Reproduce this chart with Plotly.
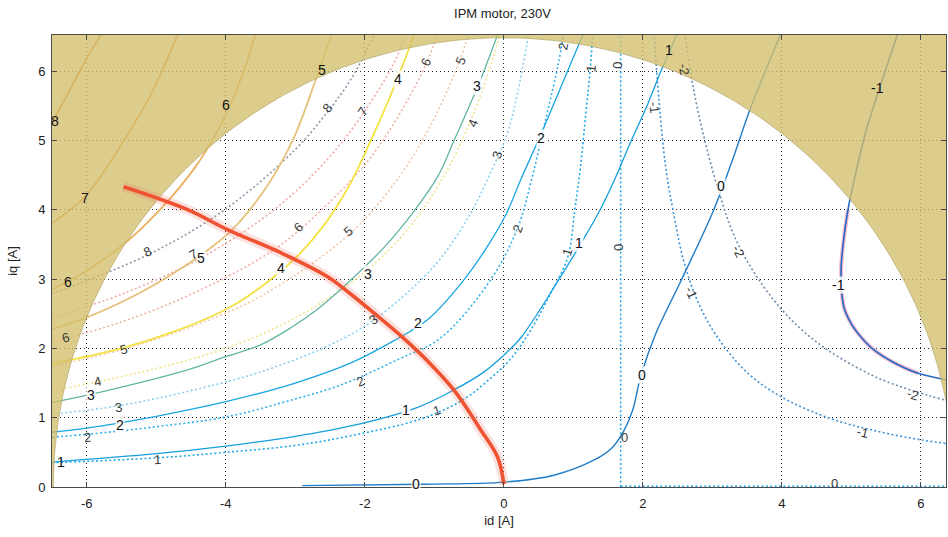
import numpy as np
import plotly.graph_objects as go

# ---------------------------------------------------------------
# Current-plane map of an IPM motor: torque contours (solid),
# second torque map (dotted), MTPA trajectory and current limit.
# All curves are (id, iq) pairs in amperes.
# ---------------------------------------------------------------

# solid torque contours
solid_m1 = [(5.67, 6.55), (5.42, 5.8), (5.2, 5.1), (5.04, 4.43), (4.95, 4.0), (4.88, 3.5),
            (4.85, 3.1), (4.89, 2.6), (5.0, 2.35), (5.14, 2.16), (5.32, 1.98), (5.6, 1.8),
            (5.96, 1.64), (6.45, 1.53)]
solid_0 = [(-2.9, 0.02), (-1.15, 0.04), (0.0, 0.07), (0.72, 0.17), (1.3, 0.39), (1.55, 0.56),
           (1.72, 0.8), (1.85, 1.1), (1.97, 1.6), (2.18, 2.2), (2.56, 3.0), (3.02, 4.0),
           (3.3, 4.75), (3.55, 5.47), (3.99, 6.55)]
solid_1 = [(-6.5, 0.36), (-5.0, 0.48), (-4.0, 0.59), (-3.0, 0.73), (-2.2, 0.88), (-1.24, 1.15),
           (-0.72, 1.4), (-0.3, 1.65), (0.03, 1.93), (0.25, 2.16), (0.79, 2.99), (1.1, 3.5),
           (1.37, 3.97), (1.6, 4.45), (1.83, 4.99), (2.06, 5.5), (2.26, 6.0), (2.5, 6.55)]
solid_2 = [(-6.5, 0.79), (-6.0, 0.85), (-5.0, 1.02), (-4.0, 1.23), (-3.0, 1.5), (-2.2, 1.79),
           (-1.6, 2.1), (-1.09, 2.42), (-0.62, 2.93), (-0.25, 3.45), (0.03, 3.93), (0.25, 4.45),
           (0.53, 5.08), (0.8, 5.72), (1.0, 6.2), (1.15, 6.55)]
solid_3 = [(-6.5, 1.22), (-5.8, 1.37), (-4.55, 1.69), (-4.0, 1.88), (-3.5, 2.05), (-3.06, 2.3),
           (-2.7, 2.55), (-2.35, 2.85), (-1.73, 3.45), (-1.3, 3.97), (-0.95, 4.48), (-0.72, 4.99),
           (-0.37, 5.79), (-0.08, 6.55)]
solid_4 = [(-6.5, 1.78), (-5.5, 2.0), (-4.75, 2.24), (-4.0, 2.56), (-3.5, 2.88), (-3.0, 3.3),
           (-2.6, 3.76), (-2.24, 4.32), (-1.95, 4.92), (-1.65, 5.6), (-1.45, 6.1), (-1.28, 6.55)]
solid_5 = [(-6.5, 2.28), (-5.99, 2.45), (-5.2, 2.82), (-4.45, 3.28), (-3.91, 3.71), (-3.4, 4.35),
           (-3.02, 5.04), (-2.68, 5.95), (-2.47, 6.55)]
solid_6 = [(-6.5, 2.85), (-6.0, 3.12), (-5.4, 3.56), (-4.9, 4.05), (-4.45, 4.6), (-4.15, 5.08),
           (-3.92, 5.55), (-3.74, 6.0), (-3.57, 6.55)]
solid_7 = [(-6.5, 3.8), (-6.03, 4.18), (-5.74, 4.57), (-5.47, 4.99), (-5.1, 5.62), (-4.68, 6.55)]
solid_8 = [(-6.5, 5.25), (-6.3, 5.62), (-6.1, 6.0), (-5.95, 6.27), (-5.78, 6.55)]

# dotted torque contours
dotted_m2 = [(2.6, 6.55), (2.69, 5.96), (2.81, 5.34), (3.08, 4.3), (3.37, 3.5), (3.88, 2.7),
             (4.46, 2.12), (5.32, 1.6), (6.14, 1.31), (6.5, 1.22)]
dotted_m1 = [(2.16, 6.55), (2.23, 5.6), (2.33, 4.6), (2.45, 3.9), (2.59, 3.25), (2.8, 2.65),
             (3.08, 2.15), (3.5, 1.65), (3.99, 1.3), (4.66, 1.0), (5.3, 0.82), (6.0, 0.68),
             (6.5, 0.61)]
dotted_0 = [(1.68, 0.0), (1.68, 6.55)]
dotted_0_base = [(1.68, 0.01), (6.5, 0.01)]
dotted_1 = [(-6.5, 0.35), (-5.0, 0.42), (-4.0, 0.5), (-3.0, 0.6), (-2.2, 0.74), (-1.2, 0.98),
            (-0.6, 1.25), (-0.19, 1.57), (0.1, 1.85), (0.39, 2.27), (0.65, 2.75), (0.92, 3.32),
            (1.02, 4.0), (1.1, 4.6), (1.18, 5.4), (1.24, 6.0), (1.28, 6.55)]
dotted_2 = [(-6.5, 0.72), (-6.0, 0.76), (-5.0, 0.87), (-4.0, 1.01), (-3.0, 1.27), (-2.35, 1.47),
            (-1.5, 1.85), (-0.91, 2.15), (-0.19, 2.99), (0.2, 3.74), (0.39, 4.4), (0.6, 5.3),
            (0.78, 6.09), (0.86, 6.55)]
dotted_3 = [(-6.5, 1.05), (-5.55, 1.17), (-4.5, 1.39), (-3.5, 1.66), (-2.5, 2.05), (-1.87, 2.41),
            (-1.0, 3.19), (-0.5, 3.91), (-0.23, 4.45), (0.05, 5.1), (0.2, 5.7), (0.36, 6.55)]
dotted_4 = [(-6.5, 1.39), (-5.84, 1.52), (-5.0, 1.71), (-4.0, 2.0), (-3.0, 2.44), (-2.0, 3.1),
            (-1.3, 3.82), (-0.8, 4.6), (-0.45, 5.35), (-0.2, 6.05), (-0.05, 6.55)]
dotted_5 = [(-6.5, 1.74), (-5.47, 1.99), (-4.5, 2.31), (-3.5, 2.75), (-2.23, 3.64), (-1.5, 4.48),
            (-1.0, 5.32), (-0.62, 6.2), (-0.5, 6.55)]
dotted_6 = [(-6.5, 2.09), (-5.5, 2.38), (-4.5, 2.78), (-3.5, 3.3), (-2.96, 3.69), (-2.0, 4.65),
            (-1.5, 5.38), (-1.12, 6.1), (-0.95, 6.55)]
dotted_7 = [(-6.5, 2.44), (-5.5, 2.78), (-4.4, 3.28), (-3.5, 3.85), (-3.0, 4.26), (-2.5, 4.77),
            (-2.03, 5.38), (-1.6, 6.08), (-1.4, 6.55)]
dotted_8 = [(-6.5, 2.79), (-5.12, 3.35), (-4.0, 4.01), (-3.0, 4.87), (-2.53, 5.42), (-2.2, 5.88),
            (-1.85, 6.55)]

# maximum-torque-per-ampere trajectory
mtpa = [(-5.47, 4.33), (-4.55, 4.0), (-3.97, 3.71), (-3.21, 3.38), (-2.53, 3.03), (-2.2, 2.78),
        (-1.87, 2.51), (-1.48, 2.18), (-1.1, 1.82), (-0.72, 1.4), (-0.33, 0.82), (-0.09, 0.43),
        (0.0, 0.04)]

# current limit radius [A]
I_MAX = 6.48

# inline contour labels: (level, id, iq)
solid_labels = [(8, -6.45, 5.28), (7, -6.03, 4.17), (6, -6.27, 2.96), (6, -4.0, 5.51),
                (5, -2.62, 6.02), (5, -4.36, 3.3), (4, -1.52, 5.88), (4, -3.2, 3.16),
                (3, -0.38, 5.79), (3, -1.96, 3.07), (3, -5.94, 1.33), (2, 0.53, 5.03),
                (2, -1.24, 2.37), (2, -5.52, 0.89), (1, 2.37, 6.31), (1, 1.08, 3.52),
                (1, -1.41, 1.11), (1, -6.37, 0.36), (0, 3.12, 4.34), (0, 1.99, 1.62),
                (0, -1.27, 0.05), (-1, 5.38, 5.76), (-1, 4.81, 2.91)]
dotted_labels = [(-1, 2.16, 5.47), (-2, 2.59, 6.02), (-1, 2.69, 2.8), (-2, 3.37, 3.39),
                 (-1, 5.16, 0.79), (-2, 5.88, 1.33), (0, 1.64, 6.09), (0, 1.64, 3.46),
                 (0, 1.73, 0.72), (0, 4.76, 0.05), (1, 1.25, 6.04), (2, 0.85, 6.36),
                 (1, 0.92, 3.39), (2, 0.2, 3.73), (3, -0.09, 4.79), (4, -0.45, 5.25),
                 (5, -0.62, 6.15), (6, -1.12, 6.12), (7, -2.03, 5.42), (8, -2.53, 5.47),
                 (6, -2.96, 3.74), (5, -2.24, 3.68), (3, -1.87, 2.41), (2, -2.06, 1.52),
                 (1, -0.97, 1.11), (8, -5.12, 3.39), (7, -4.47, 3.35), (6, -6.3, 2.16),
                 (5, -5.47, 1.99), (4, -5.84, 1.52), (3, -5.55, 1.15), (2, -5.99, 0.71),
                 (1, -4.98, 0.39)]

x_ticks = [-6, -4, -2, 0, 2, 4, 6]
x_tick_text = ["-6", "-4", "-2", "0", "2", "4", "6"]
y_ticks = [0, 1, 2, 3, 4, 5, 6]
y_tick_text = ["0", "1", "2", "3", "4", "5", "6"]

# ---------------------------------------------------------------
solid = {-1: solid_m1, 0: solid_0, 1: solid_1, 2: solid_2, 3: solid_3,
         4: solid_4, 5: solid_5, 6: solid_6, 7: solid_7, 8: solid_8}
dotted = {-2: [dotted_m2], -1: [dotted_m1], 0: [dotted_0, dotted_0_base],
          1: [dotted_1], 2: [dotted_2], 3: [dotted_3], 4: [dotted_4],
          5: [dotted_5], 6: [dotted_6], 7: [dotted_7], 8: [dotted_8]}

solid_color = {-1: "#2468c8", 0: "#1f7cc8", 1: "#169fdc", 2: "#19a6e2", 3: "#62b6a4",
               4: "#f4e142", 5: "#e6c27c", 6: "#ebb062", 7: "#e9a052", 8: "#e09048"}
solid_width = {-1: 1.6, 0: 1.4, 1: 1.3, 2: 1.3, 3: 1.3, 4: 1.8, 5: 1.8, 6: 1.8, 7: 1.8, 8: 1.8}
dotted_color = {-2: "#6f8cab", -1: "#3c92da", 0: "#2aa8e8", 1: "#22a8e8", 2: "#34b0ec",
                3: "#8ccfee", 4: "#f0e48c", 5: "#f2c6a6", 6: "#f1b2a4", 7: "#efaaa6",
                8: "#8f98aa"}

FONT = "Liberation Sans, Arial, Helvetica, sans-serif"
X_RANGE = [-6.5, 6.36]
Y_RANGE = [0, 6.52]
PX_X, PX_Y = 894 / (X_RANGE[1] - X_RANGE[0]), 452 / (Y_RANGE[1] - Y_RANGE[0])

fig = go.Figure()


def xy(pts):
    a = np.array(pts, dtype=float)
    return a[:, 0], a[:, 1]


# dotted family
for lvl, parts in dotted.items():
    for pts in parts:
        x, y = xy(pts)
        fig.add_trace(go.Scatter(x=x, y=y, mode="lines", hoverinfo="skip", showlegend=False,
                                 line=dict(color=dotted_color[lvl], width=1.6, dash="2px,2.4px",
                                           shape="spline", smoothing=1.0)))

# solid family
for lvl, pts in solid.items():
    x, y = xy(pts)
    if lvl == -1:
        # reddish rim along the part inside the current limit
        rim_y = np.where(np.hypot(x, y) < I_MAX, y, np.nan)
        fig.add_trace(go.Scatter(x=x, y=rim_y, mode="lines", hoverinfo="skip", showlegend=False,
                                 line=dict(color="rgba(238,120,150,0.5)", width=4,
                                           shape="spline", smoothing=1.0)))
    fig.add_trace(go.Scatter(x=x, y=y, mode="lines", hoverinfo="skip", showlegend=False,
                             line=dict(color=solid_color[lvl], width=solid_width[lvl],
                                       shape="spline", smoothing=1.0)))

# region outside the current limit
theta = np.linspace(0, np.pi, 181)
arc_x, arc_y = I_MAX * np.cos(theta), I_MAX * np.sin(theta)
shade_x = np.concatenate([[-8, -8, 8, 8], arc_x, [-8]])
shade_y = np.concatenate([[0, 8, 8, 0], arc_y, [0]])
fig.add_trace(go.Scatter(x=shade_x, y=shade_y, mode="lines", fill="toself",
                         fillcolor="rgba(211,191,108,0.78)", line=dict(width=0),
                         hoverinfo="skip", showlegend=False))
fig.add_trace(go.Scatter(x=arc_x, y=arc_y, mode="lines", hoverinfo="skip", showlegend=False,
                         line=dict(color="rgba(170,158,100,0.6)", width=1)))

# MTPA trajectory
mx, my = xy(mtpa)
fig.add_trace(go.Scatter(x=mx, y=my, mode="lines", hoverinfo="skip", showlegend=False,
                         line=dict(color="rgba(240,110,90,0.2)", width=10,
                                   shape="spline", smoothing=1.0)))
fig.add_trace(go.Scatter(x=mx, y=my, mode="lines", hoverinfo="skip", showlegend=False,
                         line=dict(color="#ef5230", width=3.6, shape="spline", smoothing=1.0)))


def label_angle(parts, px, py):
    best = None
    for pts in parts:
        a = np.array(pts, dtype=float)
        d = np.hypot((a[:, 0] - px) * PX_X, (a[:, 1] - py) * PX_Y)
        i = int(np.argmin(d))
        if best is None or d[i] < best[0]:
            j0, j1 = max(i - 1, 0), min(i + 1, len(a) - 1)
            best = (d[i], a[j1] - a[j0])
    dx, dy = best[1][0] * PX_X, best[1][1] * PX_Y
    ang = np.degrees(np.arctan2(dy, dx))
    if ang > 90:
        ang -= 180
    elif ang <= -90:
        ang += 180
    return -ang


annotations = []
for lvl, px, py in solid_labels:
    inside = np.hypot(px, py) < I_MAX - 0.1
    annotations.append(dict(x=px, y=py, text=str(lvl), showarrow=False,
                            font=dict(family=FONT, size=14, color="#111"),
                            bgcolor="rgba(255,255,255,0.85)" if inside else None,
                            borderpad=0))
for lvl, px, py in dotted_labels:
    annotations.append(dict(x=px, y=py, text=str(lvl), showarrow=False,
                            textangle=label_angle(dotted[lvl], px, py),
                            font=dict(family=FONT, size=13, color="#3a3a3a")))

axis_common = dict(showline=True, linecolor="#4a4a4a", linewidth=1, mirror="ticks",
                   ticks="inside", ticklen=5, tickcolor="#4a4a4a",
                   showgrid=True, gridcolor="rgba(0,0,0,0.85)", gridwidth=1,
                   griddash="1.3px,2.7px", zeroline=False,
                   tickfont=dict(family=FONT, size=13, color="#222"))

fig.update_layout(
    width=948, height=537,
    margin=dict(l=52, r=2, t=35, b=50),
    paper_bgcolor="white", plot_bgcolor="white",
    title=dict(text="IPM motor, 230V", x=0.53, xanchor="center", y=1 - 13 / 537,
               yref="container", yanchor="middle",
               font=dict(family=FONT, size=13, color="#222")),
    xaxis=dict(range=X_RANGE, tickvals=x_ticks, ticktext=x_tick_text, ticklabelstandoff=4,
               title=dict(text="id [A]", standoff=6, font=dict(family=FONT, size=13, color="#222")),
               **axis_common),
    yaxis=dict(range=Y_RANGE, tickvals=y_ticks, ticktext=y_tick_text, ticklabelstandoff=3,
               title=dict(text="iq [A]", standoff=17, font=dict(family=FONT, size=13, color="#222")),
               **axis_common),
    annotations=annotations,
    showlegend=False,
)

fig.write_html("out.html")
